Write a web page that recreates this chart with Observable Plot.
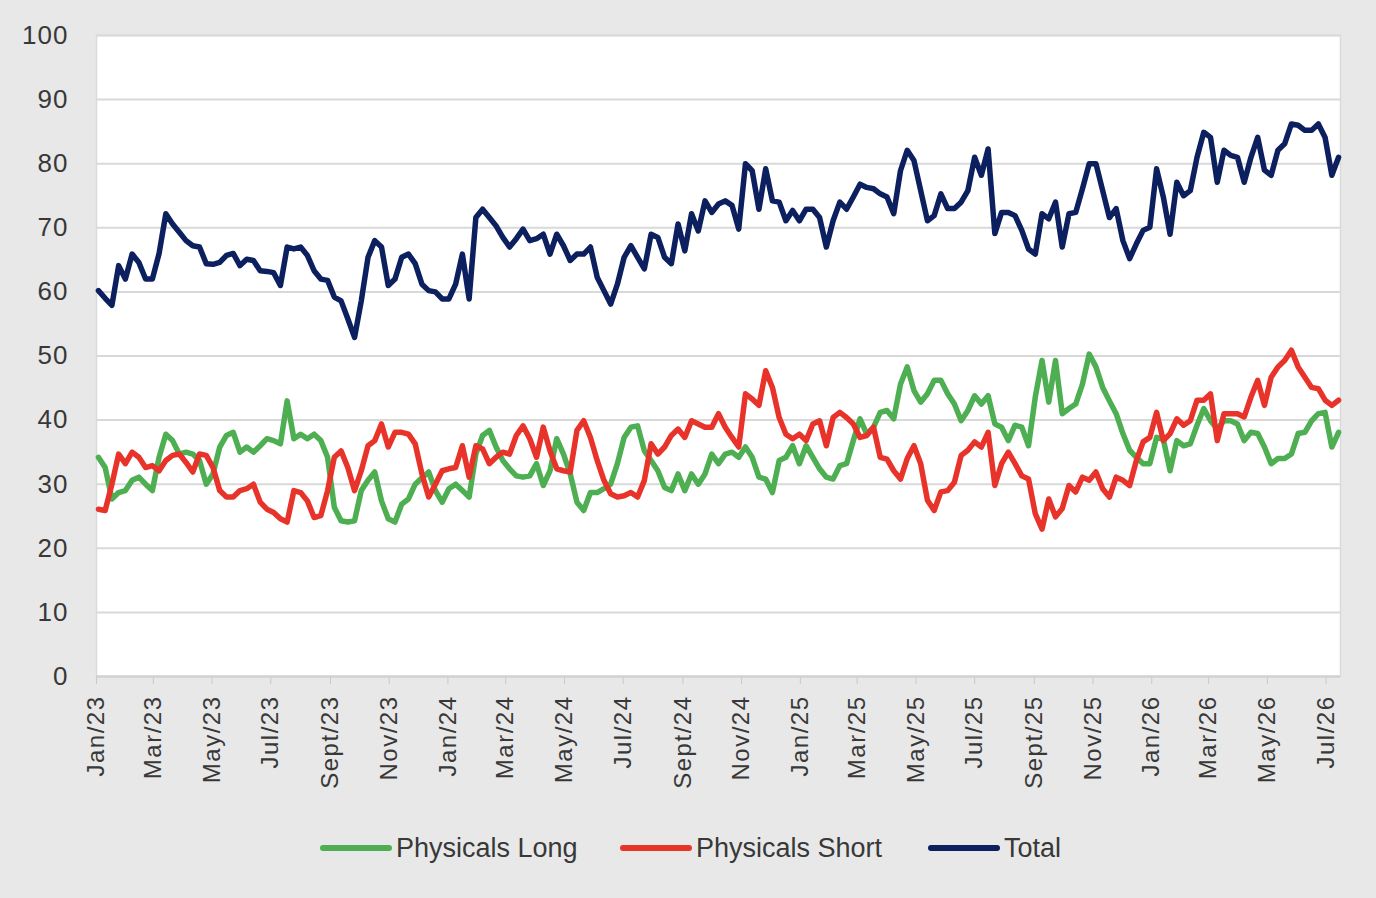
<!DOCTYPE html>
<html>
<head>
<meta charset="utf-8">
<script src="https://cdn.jsdelivr.net/npm/d3@7"></script>
<script src="https://cdn.jsdelivr.net/npm/@observablehq/plot@0.6"></script>
<style>
  html, body { margin: 0; padding: 0; background: #e8e8e8; }
  #wrap { position: relative; width: 1376px; height: 898px; background: #e8e8e8; overflow: hidden; }
  #chart { position: absolute; left: 0; top: 0; }
  #legend { position: absolute; top: 828px; left: 0; width: 1376px; height: 40px;
            font-family: "Liberation Sans", Arial, sans-serif; font-size: 27px; color: #383838; }
  .item { position: absolute; top: 0; display: flex; align-items: center; height: 40px; }
  .sw { width: 72px; height: 6px; border-radius: 3px; margin-right: 4px; }
</style>
</head>
<body>
<div id="wrap">
  <div id="chart"></div>
  <div id="legend"></div>
</div>
<script>
// ---- data (weekly observations, Jan 2023 – Jul 2026) ----
const startDate = "2023-01-03";
const seriesNames = ["Physicals Long", "Physicals Short", "Total"];
const seriesColors = ["#4dae52", "#e8332a", "#0c1f5e"];

const physicalsLong = [
  34.2,32.6,27.7,28.7,29,30.6,31.1,30,29,34.2,37.8,36.8,34.7,35,34.7,33.7,30,31.6,35.8,37.6,
  38.1,35,35.8,35,36,37.1,36.8,36.3,43,37.1,37.8,37.1,37.8,36.8,34.2,26.4,24.3,24.1,24.3,29,
  30.6,31.9,27.4,24.6,24.1,26.9,27.7,30,31,31.9,29,27.2,29.3,30,29,28,34.7,37.6,38.4,35.8,
  33.7,32.4,31.3,31.1,31.3,33.2,29.8,32.1,37.1,34.7,31.6,27.2,25.9,28.7,28.7,29.3,30,33.2,37.3,38.9,
  39.1,35.2,33.7,32.1,29.5,29,31.6,29,31.6,30,31.6,34.7,33.2,34.7,35,34.2,35.8,34.2,31.1,30.8,
  28.7,33.7,34.2,36,33.2,36,34.2,32.4,31.1,30.8,32.9,33.2,36.8,40.2,37.8,38.9,41.2,41.5,40.2,45.6,
  48.3,44.6,42.8,44.1,46.2,46.2,44.1,42.5,39.9,41.5,43.8,42.5,43.8,39.4,38.9,36.8,39.2,38.9,36,43.6,
  49.3,42.8,49.3,41,41.8,42.5,45.6,50.3,48.3,45.1,43,41,37.9,35.3,34.2,33.2,33.2,37.3,37,32.1,
  36.8,36,36.3,39.2,41.8,39.9,38.6,39.9,39.9,39.4,36.8,38.1,37.9,35.8,33.2,34,34,34.7,37.9,38.1,
  39.9,41,41.2,35.8,38.1
];

const physicalsShort = [
  26.1,25.9,30,34.7,33.2,35,34.2,32.6,32.9,32.1,33.7,34.5,34.7,33.4,31.9,34.7,34.5,32.6,29,28,
  28,29,29.3,30,27.2,26.1,25.6,24.6,24.1,29,28.7,27.4,24.8,25.1,29,34.2,35.2,32.6,29,32.1,
  36,36.8,39.4,35.8,38.1,38.1,37.8,36.3,31.6,28,30,32.1,32.4,32.6,36,31.1,36,35.5,33.2,34.2,
  35,34.7,37.6,39.1,37.1,34.2,38.9,35.2,32.4,32.1,31.9,38.4,39.9,37.3,33.7,30.6,28.5,28,28.2,28.7,
  28,30.6,36.3,34.7,35.8,37.6,38.6,37.3,39.9,39.4,38.9,38.9,41,38.9,37.3,35.8,44.1,43.3,42.3,47.7,
  45.1,40.4,37.8,37.1,37.8,36.8,39.4,39.9,36,40.4,41.2,40.4,39.4,37.3,37.6,38.9,34.2,33.9,32.1,30.8,
  34,36,33.2,27.5,25.9,28.8,29,30.3,34.5,35.3,36.6,35.8,38.1,29.8,33.2,35,33.2,31.3,30.8,25.4,
  23,27.7,24.9,26.2,29.8,28.8,31.1,30.6,31.9,29.3,28,31.1,30.6,29.8,33.7,36.6,37.3,41.2,36.8,37.9,
  40.2,39.2,39.9,43.1,43.1,44.1,36.8,41,41,41,40.5,43.6,46.2,42.3,46.7,48.3,49.3,50.9,48.3,46.7,
  45.1,44.9,43.1,42.3,43.1
];

const total = [
  60.2,59,57.9,64.1,62,65.9,64.6,62,62,66,72.2,70.6,69.3,68,67.2,67,64.4,64.3,64.6,65.7,
  66,64.1,65.1,64.9,63.3,63.2,63,61,67,66.7,67,65.7,63.3,62,61.8,59.2,58.6,55.8,52.9,58.6,
  65.4,68,67,61,62,65.4,65.9,64.4,61.2,60.2,60,58.9,58.9,61.2,65.9,58.9,71.6,72.9,71.6,70.3,
  68.5,67,68.3,69.8,68,68.3,69,65.9,69,67.2,64.9,65.9,65.9,67,62.3,60.2,58.1,61.2,65.4,67.2,
  65.4,63.6,69,68.5,65.4,64.4,70.6,66.4,72.2,69.5,74.2,72.4,73.7,74.2,73.5,69.8,80,78.9,72.9,79.2,
  74.2,74,71.1,72.7,71.1,72.9,72.9,71.6,67,71.1,74,72.9,74.8,76.8,76.3,76.1,75.3,74.8,72.2,78.9,
  82.1,80.5,75.8,71.1,71.9,75.3,73,73,74,75.8,81,78.2,82.3,69.1,72.4,72.4,71.9,69.6,66.7,65.9,
  72.2,71.4,74,67,72.2,72.4,76.1,80,80,75.8,71.6,73,68,65.2,67.5,69.6,70.1,79.2,74.8,69,
  77.1,75,75.8,81,84.9,84.1,77.1,82.1,81.3,81,77.1,81,84.1,79,78.2,82.1,83.1,86.2,86,85.2,
  85.2,86.2,84.1,78.2,81
];

const yTicks = [0, 10, 20, 30, 40, 50, 60, 70, 80, 90, 100];
const xTickLabels = [
  "Jan/23","Mar/23","May/23","Jul/23","Sept/23","Nov/23",
  "Jan/24","Mar/24","May/24","Jul/24","Sept/24","Nov/24",
  "Jan/25","Mar/25","May/25","Jul/25","Sept/25","Nov/25",
  "Jan/26","Mar/26","May/26","Jul/26"
];

// ---- build tables ----
const parse = d3.utcParse("%Y-%m-%d");
const t0 = parse(startDate);
const toRows = (arr) => arr.map((v, i) => ({ date: d3.utcWeek.offset(t0, i), value: v }));
const rowsLong = toRows(physicalsLong);
const rowsShort = toRows(physicalsShort);
const rowsTotal = toRows(total);

const domainStart = parse("2023-01-01");
const domainEnd = parse("2026-07-16");
const xTicks = d3.utcMonth.every(2).range(domainStart, parse("2026-07-02"));
const labelOf = new Map(xTicks.map((d, i) => [+d, xTickLabels[i]]));

const font = "'Liberation Sans', Arial, sans-serif";

const chart = Plot.plot({
  width: 1376,
  height: 810,
  marginLeft: 96,
  marginRight: 36,
  marginTop: 35,
  marginBottom: 134,
  style: { fontFamily: font, color: "#383838", background: "transparent", overflow: "visible" },
  x: { type: "utc", domain: [domainStart, domainEnd] },
  y: { domain: [0, 100] },
  marks: [
    Plot.frame({ fill: "white", stroke: "#dadada", strokeWidth: 1.5 }),
    Plot.gridY(yTicks, { stroke: "#d9d9d9", strokeOpacity: 1, strokeWidth: 2 }),
    Plot.axisY(yTicks, { tickSize: 0, tickPadding: 28, fontSize: 26, label: null, fill: "#383838",
      tickFormat: d => String(d) }),
    Plot.axisX(xTicks, { tickSize: 8, tickPadding: 11, tickRotate: -90, fontSize: 24, label: null,
      stroke: "#c8c8c8", fill: "#383838", tickFormat: d => labelOf.get(+d) }),
    Plot.ruleY([0], { stroke: "#d0d0d0", strokeWidth: 2 }),
    Plot.lineY(rowsLong, { x: "date", y: "value", stroke: seriesColors[0], strokeWidth: 5.5, strokeLinejoin: "round", strokeLinecap: "round" }),
    Plot.lineY(rowsShort, { x: "date", y: "value", stroke: seriesColors[1], strokeWidth: 5.5, strokeLinejoin: "round", strokeLinecap: "round" }),
    Plot.lineY(rowsTotal, { x: "date", y: "value", stroke: seriesColors[2], strokeWidth: 5.5, strokeLinejoin: "round", strokeLinecap: "round" })
  ]
});
chart.querySelectorAll("g[aria-label='x-axis tick label']").forEach(n => n.style.letterSpacing = "1.5px");
chart.querySelectorAll("g[aria-label='y-axis tick label']").forEach(n => n.style.letterSpacing = "1px");
document.getElementById("chart").appendChild(chart);

// ---- legend ----
const legendPos = [320, 620, 928];
const legend = document.getElementById("legend");
seriesNames.forEach((name, i) => {
  const item = document.createElement("div");
  item.className = "item";
  item.style.left = legendPos[i] + "px";
  const sw = document.createElement("span");
  sw.className = "sw";
  sw.style.background = seriesColors[i];
  const tx = document.createElement("span");
  tx.textContent = name;
  item.appendChild(sw);
  item.appendChild(tx);
  legend.appendChild(item);
});
</script>
</body>
</html>
